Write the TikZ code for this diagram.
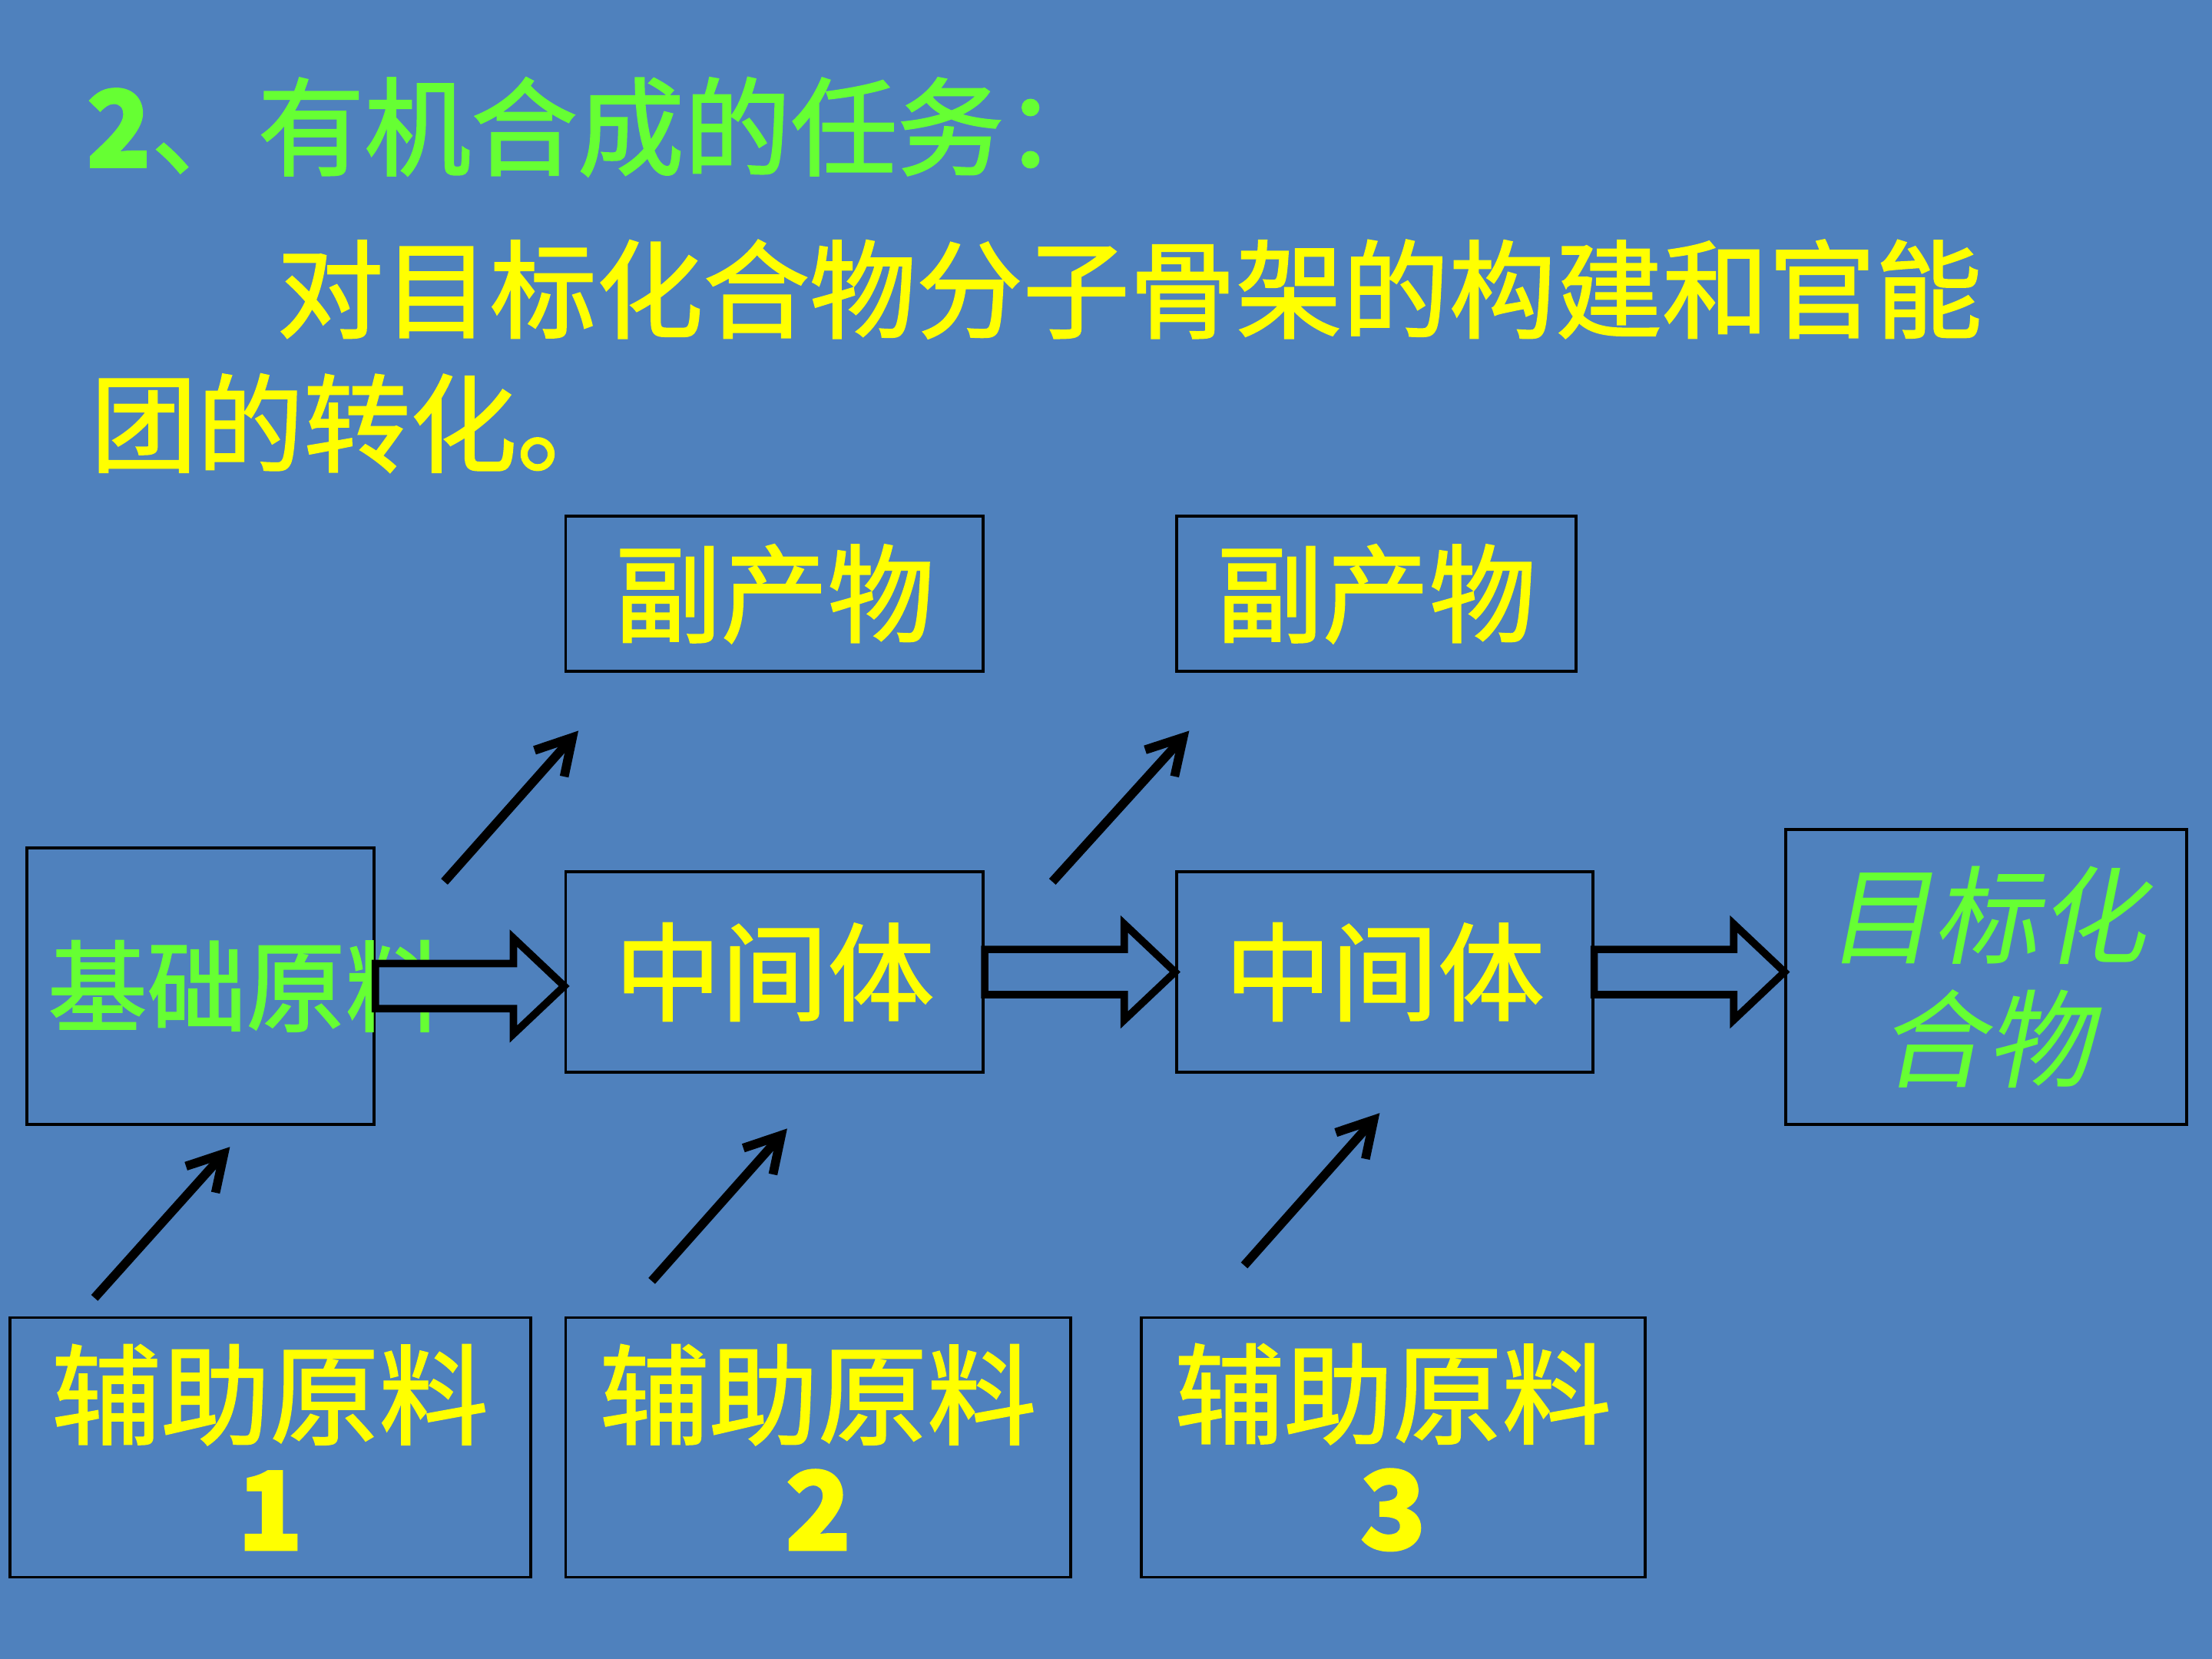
\documentclass[tikz,border=0pt]{standalone}
\usepackage{fontspec}
\usetikzlibrary{arrows.meta,calc}
\newfontfamily\cjk[FakeBold=1.5]{Noto Sans CJK SC}
\newfontfamily\cjkit[FakeSlant=0.2]{Noto Sans CJK SC}
\setmainfont{Liberation Serif}
\definecolor{bg}{RGB}{79,129,189}
\definecolor{yel}{RGB}{255,255,0}
\definecolor{grn}{RGB}{102,255,51}
\begin{document}
\begin{tikzpicture}[x=0.02cm,y=-0.02cm,
  box/.style={draw=black,line width=1.2pt,inner sep=0pt},
  big/.style={font=\cjk\fontsize{43}{52}\selectfont},
  blk/.style={line width=3.6pt,-{Straight Barb[length=14pt,width=16pt,line width=3.6pt]}},
  hol/.style={draw=black,line width=3pt,fill=bg}]
\fill[bg] (0,0) rectangle (1568,1176);
\useasboundingbox (0,0) rectangle (1568,1176);
\node[anchor=west,text=grn,big] (t1) at (55,90) {{\bfseries 2}、有机合成的任务：};
\node[anchor=west,text=yel,big] (t2) at (190,205) {对目标化合物分子骨架的构建和官能};
\node[anchor=west,text=yel,big] (t3) at (58,300) {团的转化。};
\node[box,minimum width=296*0.02cm,minimum height=110*0.02cm,text=yel,big] (p1) at (549,421) {副产物};
\node[box,minimum width=283*0.02cm,minimum height=110*0.02cm,text=yel,big] (p2) at (975.5,421) {副产物};
\node[box,minimum width=246*0.02cm,minimum height=196*0.02cm,text=grn,big,text width=216*0.02cm,align=left,font=\cjk\fontsize{40}{48}\selectfont] (s) at (142,699) {基础原料};
\node[box,minimum width=296*0.02cm,minimum height=142*0.02cm,text=yel,big] (m1) at (549,689) {中间体};
\node[box,minimum width=295*0.02cm,minimum height=142*0.02cm,text=yel,big] (m2) at (981.5,689) {中间体};
\node[box,minimum width=284*0.02cm,minimum height=209*0.02cm,text=grn,text width=250*0.02cm,align=center,font=\cjkit\fontsize{43}{50}\selectfont] (g) at (1408,692.5) {目标化\\合物};
\node[box,minimum width=369*0.02cm,minimum height=184*0.02cm,text=yel,big,align=center,font=\cjk\fontsize{44}{46}\selectfont] (a1) at (191.5,1026) {辅助原料\\{\bfseries 1}};
\node[box,minimum width=358*0.02cm,minimum height=184*0.02cm,text=yel,big,align=center,font=\cjk\fontsize{44}{46}\selectfont] (a2) at (580,1026) {辅助原料\\{\bfseries 2}};
\node[box,minimum width=357*0.02cm,minimum height=184*0.02cm,text=yel,big,align=center,font=\cjk\fontsize{44}{46}\selectfont] (a3) at (987.5,1026) {辅助原料\\{\bfseries 3}};
% hollow arrows
\foreach \u/\v in {s/m1,m1/m2,m2/g}{
  \draw[hol] ($(\u.east)+(0,-16)$) coordinate (q) -- ($(\v.west|-q)+(-36,0)$) -- ++(0,-18) -- (\v.west|-\u.east) -- ($(\v.west|-\u.east)+(-36,34)$) -- ++(0,-18) -- ($(\u.east)+(0,16)$) -- cycle;
}
% black arrows
\coordinate (b1) at (315,625); \coordinate (e1) at (410,518);
\coordinate (b2) at (746,625); \coordinate (e2) at (843,518);
\coordinate (b3) at (67,920);  \coordinate (e3) at (163,813);
\coordinate (b4) at (462,908); \coordinate (e4) at (558,800);
\coordinate (b5) at (882,897); \coordinate (e5) at (978,789);
\foreach \i in {1,...,5}{\draw[blk] (b\i) -- (e\i);}
\end{tikzpicture}
\end{document}
